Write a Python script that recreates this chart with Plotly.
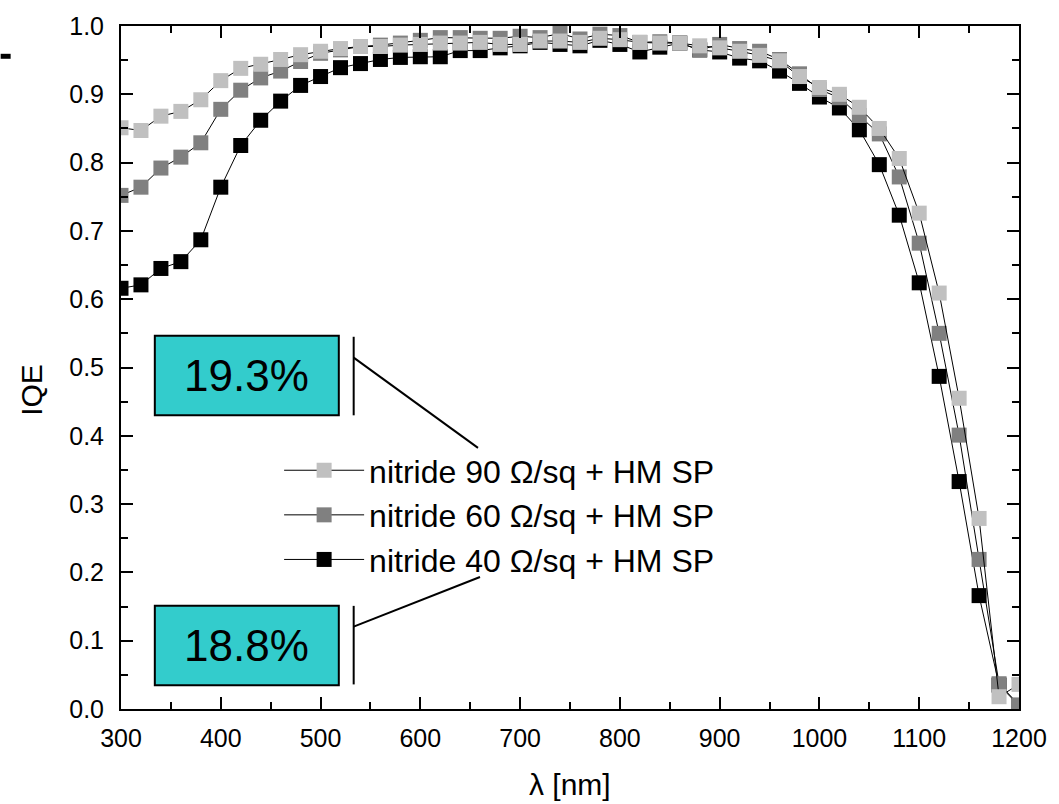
import plotly.graph_objects as go

wavelength = list(range(300, 1201, 20))

iqe_90 = [0.851, 0.847, 0.868, 0.875, 0.892, 0.920, 0.938, 0.944, 0.951, 0.958,
          0.963, 0.967, 0.970, 0.970, 0.972, 0.973, 0.975, 0.975, 0.976, 0.973,
          0.973, 0.978, 0.978, 0.976, 0.982, 0.980, 0.976, 0.975, 0.975, 0.971,
          0.968, 0.963, 0.957, 0.949, 0.926, 0.910, 0.900, 0.881, 0.850, 0.806,
          0.726, 0.609, 0.455, 0.279, 0.018, 0.036]

iqe_60 = [0.752, 0.764, 0.792, 0.808, 0.829, 0.878, 0.906, 0.924, 0.934, 0.948,
          0.960, 0.965, 0.970, 0.972, 0.975, 0.979, 0.983, 0.983, 0.982, 0.982,
          0.985, 0.983, 0.989, 0.981, 0.988, 0.986, 0.976, 0.977, 0.975, 0.965,
          0.973, 0.967, 0.963, 0.951, 0.930, 0.907, 0.895, 0.869, 0.842, 0.779,
          0.682, 0.550, 0.401, 0.219, 0.037, 0.006]

iqe_40 = [0.616, 0.621, 0.645, 0.655, 0.687, 0.764, 0.825, 0.862, 0.890, 0.913,
          0.926, 0.939, 0.945, 0.951, 0.954, 0.955, 0.955, 0.964, 0.964, 0.968,
          0.971, 0.976, 0.973, 0.971, 0.979, 0.973, 0.962, 0.969, 0.975, 0.965,
          0.962, 0.953, 0.949, 0.934, 0.916, 0.896, 0.880, 0.848, 0.797, 0.723,
          0.624, 0.487, 0.333, 0.166, 0.035, 0.005]

series_names = ["nitride 40 Ω/sq + HM SP", "nitride 60 Ω/sq + HM SP", "nitride 90 Ω/sq + HM SP"]
series_values = [iqe_40, iqe_60, iqe_90]
series_colors = ["#000000", "#808080", "#c0c0c0"]

efficiency_labels = ["19.3%", "18.8%"]

FONT = "Liberation Sans, Arial, sans-serif"

fig = go.Figure()
for name, vals, col in zip(series_names, series_values, series_colors):
    fig.add_trace(go.Scatter(
        x=wavelength, y=vals, name=name, mode="lines+markers",
        line=dict(color="#000000", width=1),
        marker=dict(symbol="square", size=15, color=col, line=dict(width=0)),
    ))

axis_common = dict(
    showline=True, linecolor="black", linewidth=2, mirror="ticks",
    ticks="inside", ticklen=12, tickwidth=2, tickcolor="black",
    showgrid=False, zeroline=False,
    tickfont=dict(family=FONT, size=25, color="black"),
)

fig.update_xaxes(range=[300, 1200], dtick=100, tick0=300,
                 minor=dict(ticks="inside", ticklen=7, tickwidth=2, tickcolor="black", dtick=50),
                 ticklabelstandoff=6, **axis_common)
fig.update_yaxes(range=[0, 1.0], dtick=0.1, tick0=0, tickformat=".1f",
                 minor=dict(ticks="inside", ticklen=7, tickwidth=2, tickcolor="black", dtick=0.05),
                 ticklabelstandoff=10, **axis_common)

shapes = []
annotations = []
# efficiency boxes
box_specs = [
    dict(x0=333.9, x1=518.3, y0=0.4302, y1=0.5465, line_y0=0.430, line_y1=0.545,
         diag=(533.2, 0.5145, 657.8, 0.3823), ty=0.488, label=efficiency_labels[0]),
    dict(x0=333.9, x1=518.3, y0=0.0349, y1=0.1512, line_y0=0.036, line_y1=0.151,
         diag=(533.2, 0.1206, 659.8, 0.1933), ty=0.093, label=efficiency_labels[1]),
]
for b in box_specs:
    shapes.append(dict(type="rect", xref="x", yref="y", x0=b["x0"], x1=b["x1"], y0=b["y0"], y1=b["y1"],
                       fillcolor="#33CCCC", line=dict(color="black", width=2), layer="above"))
    shapes.append(dict(type="line", xref="x", yref="y", x0=533.2, x1=533.2, y0=b["line_y0"], y1=b["line_y1"],
                       line=dict(color="black", width=2)))
    dx0, dy0, dx1, dy1 = b["diag"]
    shapes.append(dict(type="line", xref="x", yref="y", x0=dx0, y0=dy0, x1=dx1, y1=dy1,
                       line=dict(color="black", width=2)))
    annotations.append(dict(x=(b["x0"] + b["x1"]) / 2, y=b["ty"], xref="x", yref="y", text=b["label"],
                            showarrow=False, font=dict(family=FONT, size=44, color="black"),
                            xanchor="center", yanchor="middle"))

# stray dash at top-left
shapes.append(dict(type="rect", xref="paper", yref="paper", x0=-0.134, x1=-0.1229, y0=0.952, y1=0.9593,
                   fillcolor="black", line=dict(width=0)))

annotations.append(dict(x=-0.0997, y=0.468, xref="paper", yref="paper", text="IQE", textangle=-90,
                        showarrow=False, font=dict(family=FONT, size=30, color="black"),
                        xanchor="center", yanchor="middle"))
annotations.append(dict(x=0.5, y=-0.110, xref="paper", yref="paper", text="λ [nm]",
                        showarrow=False, font=dict(family=FONT, size=30, color="black"),
                        xanchor="center", yanchor="middle"))

fig.update_layout(
    width=1059, height=804,
    margin=dict(l=121, r=35, t=21, b=95),
    paper_bgcolor="white", plot_bgcolor="white",
    shapes=shapes, annotations=annotations,
    showlegend=True,
    legend=dict(x=(280 - 121) / 903, y=(709 - 441) / 688, xanchor="left", yanchor="top",
                traceorder="reversed", bgcolor="rgba(0,0,0,0)", borderwidth=0,
                font=dict(family=FONT, size=32, color="black"), itemwidth=80,
                tracegroupgap=0),
    font=dict(family=FONT, color="black"),
)

fig.write_html("out.html")
